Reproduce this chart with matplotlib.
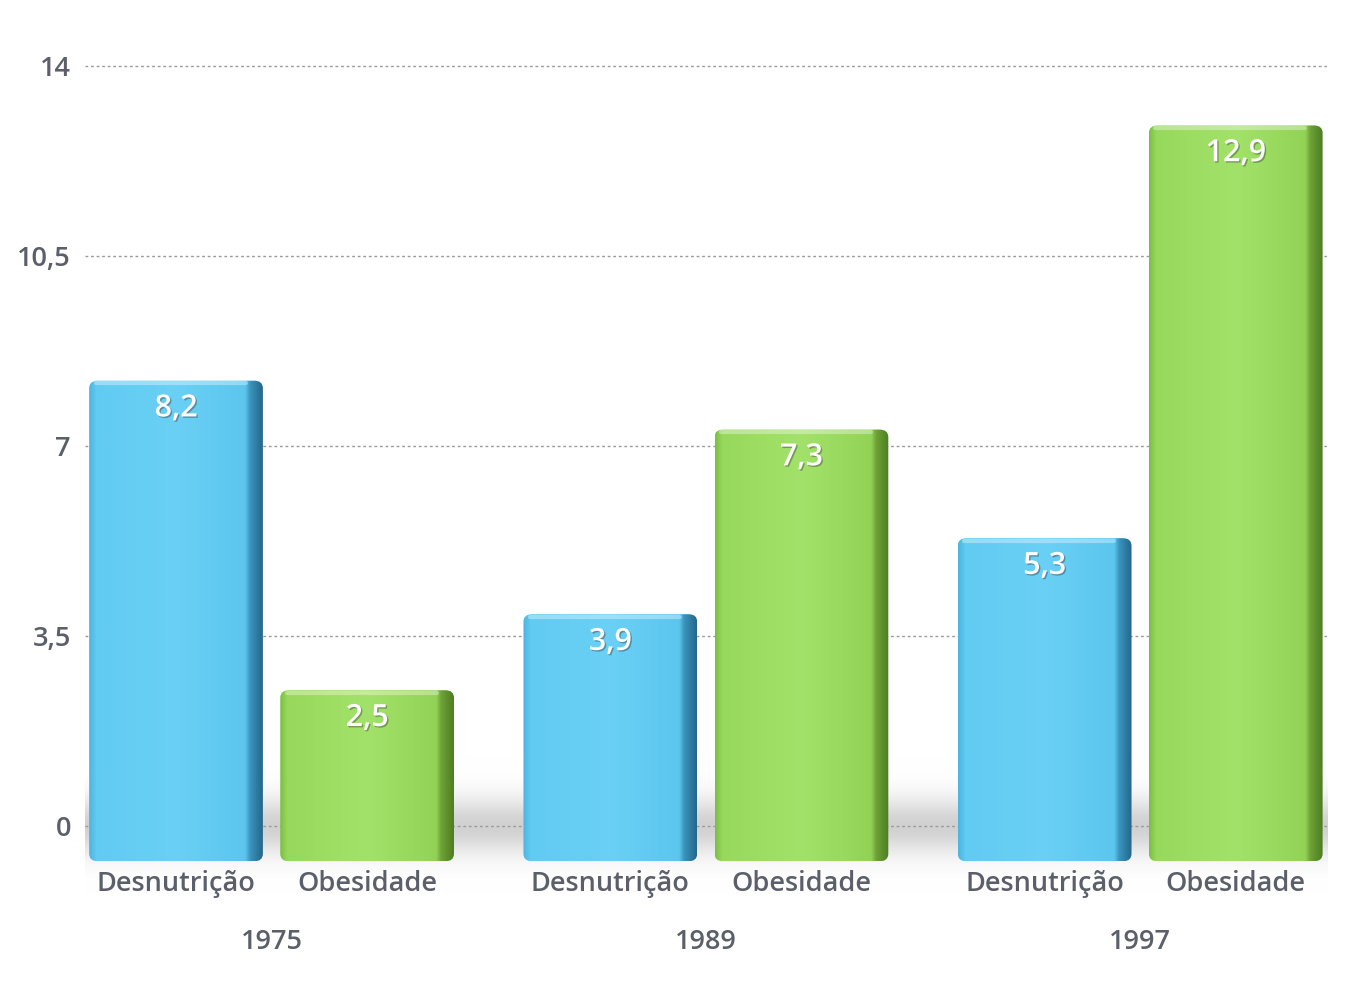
import numpy as np
import matplotlib.pyplot as plt
from matplotlib.patches import FancyBboxPatch
import matplotlib.patheffects as pe
import matplotlib.transforms as mtransforms
from matplotlib.colors import LinearSegmentedColormap

plt.rcParams['font.family'] = ['Open Sans', 'DejaVu Sans']

years = ['1975', '1989', '1997']
series = ['Desnutrição', 'Obesidade']
desnutricao = [8.2, 3.9, 5.3]
obesidade = [2.5, 7.3, 12.9]
yticks = [0, 3.5, 7, 10.5, 14]
ytick_labels = ['0', '3,5', '7', '10,5', '14']

text_color = '#5a5f69'
palettes = {
    'Desnutrição': [(0, '#4db5e0'), (0.04, '#62cbf1'), (0.5, '#6ad0f5'), (0.9, '#5cc6ee'),
                    (0.93, '#3a93bd'), (1, '#24688b')],
    'Obesidade': [(0, '#7cbf44'), (0.04, '#97d95c'), (0.5, '#a3e26a'), (0.9, '#92d356'),
                  (0.93, '#6ea236'), (1, '#4d7f22')],
}

fig = plt.figure(figsize=(13.68, 9.88), dpi=100)
ax = fig.add_axes([0.062, 0.1255, 0.908, 0.830])
base = -0.65
ax.set_ylim(-0.7, 14.4)
ax.set_xlim(-0.43, 2.43)

# floor shadow (soft band behind the bars)
shadow = np.exp(-((np.linspace(-1, 1, 80)) ** 2) * 3)[:, None] * np.ones((1, 50))
shade_cmap = LinearSegmentedColormap.from_list('sh', [(1, 1, 1, 0), (0.6, 0.6, 0.6, 0.45)])
sh = ax.imshow(shadow, extent=(-0.43, 2.43, -1.3, 1.3), aspect='auto', cmap=shade_cmap,
               zorder=0, interpolation='bicubic')
sh.set_clip_on(False)

for y in yticks:
    ax.axhline(y, color='#9a9a9a', lw=1, ls=(0, (2, 2)), zorder=1)

width = 0.40
offset = 0.22
x = np.arange(len(years))
label_x, label_txt = [], []
for name, vals, sign in [('Desnutrição', desnutricao, -1), ('Obesidade', obesidade, 1)]:
    cmap = LinearSegmentedColormap.from_list(name, palettes[name])
    grad = np.linspace(0, 1, 400)[None, :]
    for xi, v in zip(x, vals):
        cx = xi + sign * offset
        x0 = cx - width / 2
        patch = FancyBboxPatch((x0, base), width, v - base,
                               boxstyle='round,pad=0,rounding_size=0.02',
                               mutation_aspect=7,
                               fc='none', ec='none', zorder=2)
        ax.add_patch(patch)
        im = ax.imshow(grad, extent=(x0, x0 + width, base, v), aspect='auto',
                       cmap=cmap, zorder=2, interpolation='bicubic')
        im.set_clip_path(patch)
        # top highlight
        ax.plot([x0 + 0.015, x0 + width - 0.04], [v - 0.05, v - 0.05],
                color='white', alpha=0.35, lw=3, zorder=3, solid_capstyle='round')
        ax.annotate(f'{v}'.replace('.', ','), (cx, v), xytext=(0, -20),
                    textcoords='offset points', ha='center', va='center',
                    color='white', fontsize=22, fontweight='semibold', zorder=4,
                    path_effects=[pe.withSimplePatchShadow(offset=(1, -1), shadow_rgbFace='#333333', alpha=0.4)])
        label_x.append(cx)
        label_txt.append(name)

ax.set_yticks(yticks)
ax.set_yticklabels(ytick_labels, fontweight='semibold')
ax.set_xticks(label_x)
ax.set_xticklabels(label_txt, fontweight='semibold')
ax.tick_params(axis='y', length=0, pad=10, labelsize=19.5, labelcolor=text_color)
ax.tick_params(axis='x', length=0, pad=4, labelsize=19.5, labelcolor=text_color)
for s in ax.spines.values():
    s.set_visible(False)
ax.set_facecolor('none')

trans = mtransforms.blended_transform_factory(ax.transData, ax.transAxes)
for xi, yr in zip(x, years):
    ax.text(xi, -0.095, yr, transform=trans, ha='center', va='center',
            fontsize=19.5, fontweight='semibold', color=text_color)

fig.savefig('out.png', dpi=100)
